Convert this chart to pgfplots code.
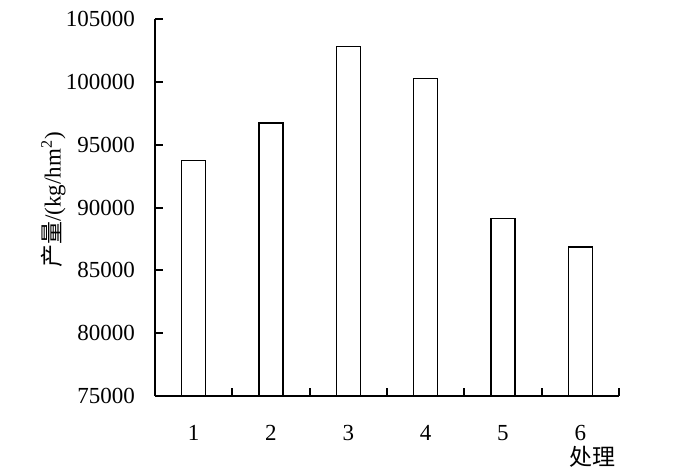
\documentclass[border=0pt]{standalone}
\usepackage{fontspec}
\setmainfont{Liberation Serif}
\newfontfamily\cjk{Noto Sans CJK SC}
\usepackage{pgfplots}
\pgfplotsset{compat=1.18}

\begin{document}
\fontsize{11.5}{13.5}\selectfont
\begin{tikzpicture}
\begin{axis}[
    at={(0,0)}, anchor=south west,
    scale only axis,
    width=232pt, height=188.5pt,
    axis x line*=bottom,
    axis y line*=left,
    axis line style={line width=1pt},
    xmin=0.5, xmax=6.5,
    ymin=75000, ymax=105000,
    ytick={75000,80000,85000,90000,95000,100000,105000},
    yticklabels={75000,80000,85000,90000,95000,100000,105000},
    xtick={1,2,3,4,5,6},
    xticklabels={1,2,3,4,5,6},
    extra x ticks={1.5,2.5,3.5,4.5,5.5,6.5},
    extra x tick labels={},
    extra x tick style={tick align=inside, major tick length=4pt,
        xtick style={draw=black, line width=1pt}},
    xtick style={draw=none},
    ytick style={draw=black, line width=1pt},
    tick align=inside,
    major tick length=4pt,
    scaled y ticks=false,
    yticklabel style={xshift=-6pt},
    xticklabel style={yshift=-6.5pt},
    ylabel={{\cjk 产量}/(kg/hm\textsuperscript{2})},
    ylabel style={at={(axis description cs:-0.219,0.52)}, anchor=center},
    xlabel={\cjk 处理},
    xlabel style={at={(axis description cs:0.942,-0.162)}, anchor=center},
    ybar, bar width=12pt,
]
\addplot[draw=black, fill=white, line width=0.75pt] coordinates {
    (1,93750) (2,96720) (3,102830) (4,100250) (5,89110) (6,86860)
};
\end{axis}
\path[use as bounding box] (-77.5pt,-37pt) rectangle (260.5pt,198pt);
\end{tikzpicture}
\end{document}
